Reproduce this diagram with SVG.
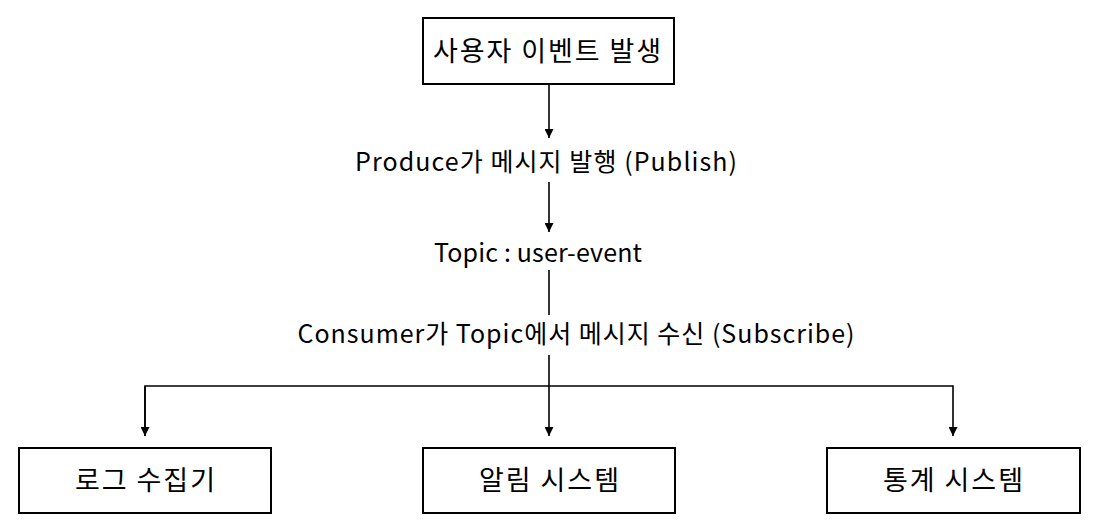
<svg xmlns="http://www.w3.org/2000/svg" width="1097" height="527" viewBox="0 0 1097 527">
<defs>
<marker id="ah" viewBox="0 0 10 10" refX="10" refY="5" markerWidth="9" markerHeight="9" markerUnits="userSpaceOnUse" orient="auto">
<path d="M0,0 L10,5 L0,10 z" fill="#000"/>
</marker>
<style>
.box{fill:#fff;stroke:#000;stroke-width:2}
.t{font-family:"Noto Sans CJK KR","Noto Sans",sans-serif;fill:#000;text-anchor:middle}
.bt{font-size:27px}
.lt{font-size:25px}
.c{stroke:#000;stroke-width:1.6;fill:none}
</style>
</defs>
<rect width="1097" height="527" fill="#fff"/>
<g id="connectors">
<line class="c" x1="549" y1="85" x2="549" y2="138" marker-end="url(#ah)"/>
<line class="c" x1="549" y1="182" x2="549" y2="232" marker-end="url(#ah)"/>
<line class="c" x1="549" y1="270" x2="549" y2="315"/>
<line class="c" x1="549" y1="355" x2="549" y2="436" marker-end="url(#ah)"/>
<polyline class="c" points="145,436 145,386 953,386 953,436" marker-end="url(#ah)"/>
<line class="c" x1="145" y1="386" x2="145" y2="436" marker-end="url(#ah)"/>
</g>
<g id="n1"><rect class="box" x="423" y="18" width="251" height="66"/><text class="t bt" x="547" y="61" textLength="228" lengthAdjust="spacing">사용자 이벤트 발생</text></g>
<g id="l1"><text class="t lt" x="546" y="171" textLength="382" lengthAdjust="spacing">Produce가 메시지 발행 (Publish)</text></g>
<g id="l2"><text class="t lt" x="538" y="262" textLength="208" lengthAdjust="spacing">Topic : user-event</text></g>
<g id="l3"><text class="t lt" x="576" y="343" textLength="557" lengthAdjust="spacing">Consumer가 Topic에서 메시지 수신 (Subscribe)</text></g>
<g id="n2"><rect class="box" x="19" y="448" width="252" height="65"/><text class="t bt" x="145" y="490" textLength="140" lengthAdjust="spacing">로그 수집기</text></g>
<g id="n3"><rect class="box" x="423" y="448" width="252" height="65"/><text class="t bt" x="549" y="490" textLength="140" lengthAdjust="spacing">알림 시스템</text></g>
<g id="n4"><rect class="box" x="827" y="448" width="253" height="65"/><text class="t bt" x="953" y="490" textLength="140" lengthAdjust="spacing">통계 시스템</text></g>
</svg>
